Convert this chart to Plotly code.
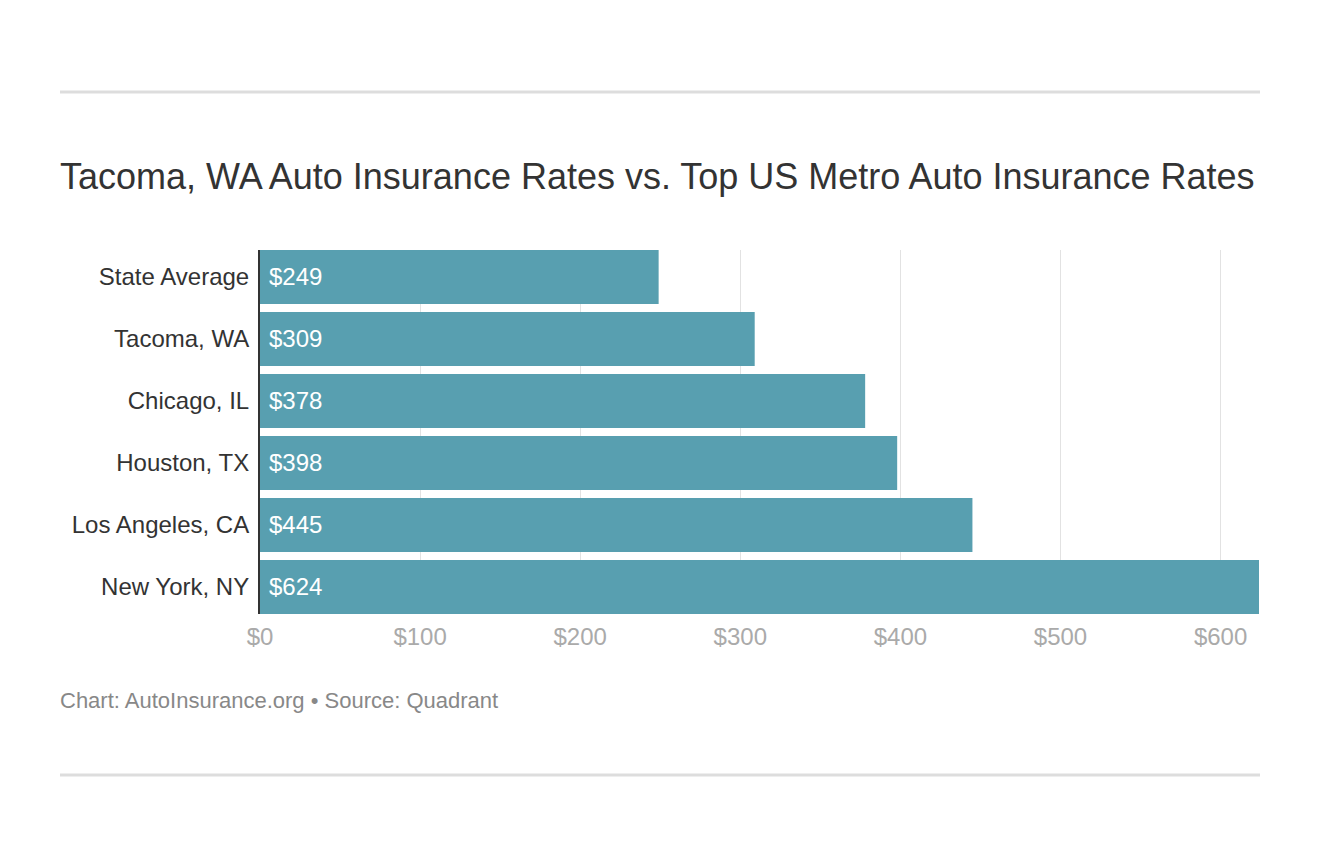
import plotly.graph_objects as go

# data
cities = ["State Average", "Tacoma, WA", "Chicago, IL", "Houston, TX",
          "Los Angeles, CA", "New York, NY"]
rates = [249, 309, 378, 398, 445, 624]
tick_vals = [0, 100, 200, 300, 400, 500, 600]
tick_text = ["$0", "$100", "$200", "$300", "$400", "$500", "$600"]

title = "Tacoma, WA Auto Insurance Rates vs. Top US Metro Auto Insurance Rates"
source = "Chart: AutoInsurance.org \u2022 Source: Quadrant"

FONT = "Liberation Sans, Arial, sans-serif"
W, H = 1320, 856
OFF = 8  # the page body adds an 8px margin around the figure
PLOT_L, PLOT_R, PLOT_T, PLOT_B = 260 - OFF, 1259 - OFF, 250 - OFF, 614 - OFF


def px_x(x):
    # page pixel -> paper x
    return (x - OFF - PLOT_L) / (PLOT_R - PLOT_L)


def px_y(y):
    # page pixel -> paper y
    return (PLOT_B - (y - OFF)) / (PLOT_B - PLOT_T)


fig = go.Figure()
fig.add_trace(go.Bar(
    x=rates, y=cities, orientation="h",
    marker=dict(color="#589fb0", line=dict(width=0)),
    hoverinfo="x+y",
))

annotations = []
for city, rate in zip(cities, rates):
    annotations.append(dict(
        x=0, y=city, xref="x", yref="y", text=f"${rate}",
        showarrow=False, xanchor="left", yanchor="middle",
        xshift=7, yshift=1,
        font=dict(family=FONT, size=24, color="#ffffff"),
    ))
annotations.append(dict(
    x=px_x(58), y=px_y(700), xref="paper", yref="paper", text=source,
    showarrow=False, xanchor="left", yanchor="middle",
    font=dict(family=FONT, size=22, color="#888888"),
))

shapes = []
for y in (92, 775):
    shapes.append(dict(
        type="line", xref="paper", yref="paper",
        x0=px_x(60), x1=px_x(1260), y0=px_y(y), y1=px_y(y),
        line=dict(color="#dddddd", width=3),
    ))

bar_frac = 54 / 62
fig.update_layout(
    width=W, height=H,
    margin=dict(l=PLOT_L, r=W - PLOT_R, t=PLOT_T, b=H - PLOT_B, pad=0),
    paper_bgcolor="white", plot_bgcolor="white",
    showlegend=False,
    bargap=1 - bar_frac,
    title=dict(
        text=title, xref="container", yref="container",
        x=(60 - OFF) / W, xanchor="left", y=1 - (176 - OFF) / H,
        yanchor="middle",
        font=dict(family=FONT, size=36, color="#333333"),
    ),
    xaxis=dict(
        range=[0, 624], tickvals=tick_vals, ticktext=tick_text,
        showgrid=True, gridcolor="#e2e2e2", gridwidth=1,
        zeroline=False, showline=False, ticks="",
        tickfont=dict(family=FONT, size=24, color="#aaaaaa"),
        ticklabelstandoff=6, fixedrange=True,
    ),
    yaxis=dict(
        categoryorder="array", categoryarray=cities,
        range=[5 + bar_frac / 2, -bar_frac / 2],
        showgrid=False, zeroline=False, ticks="",
        showline=True, linecolor="#333333", linewidth=2,
        tickfont=dict(family=FONT, size=24, color="#333333"),
        ticklabelstandoff=4, fixedrange=True,
    ),
    annotations=annotations,
    shapes=shapes,
)

fig.write_html("out.html")
